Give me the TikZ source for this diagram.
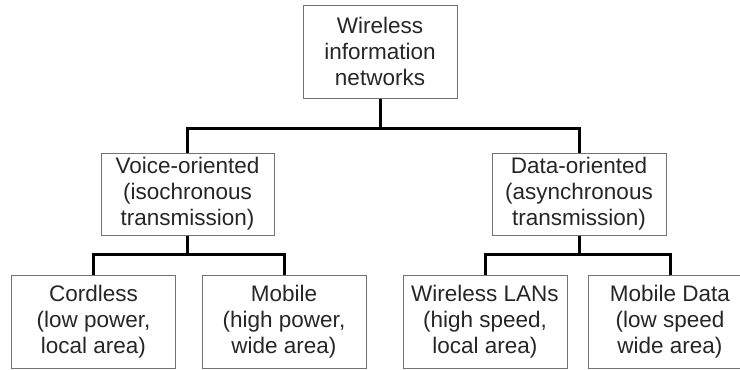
\documentclass[tikz,border=0pt]{standalone}
\usepackage{fontspec}
\setmainfont{Liberation Sans}
\begin{document}
\begin{tikzpicture}[x=1pt,y=-1pt,
    box/.style={draw=black!55,line width=1pt,align=center,inner sep=0pt,text=black!85,
        font=\fontsize{22.5}{26}\selectfont},
    conn/.style={line width=3pt,black}]
    \useasboundingbox (0,0) rectangle (740,370);
    \clip (0,0) rectangle (740,370);
    \def\barone{30} %khoảng cách tới thanh ngang
    \def\bartwo{19}
    \node[box,minimum width=154,minimum height=93] (top) at (380,51.5) {Wireless\\information\\networks};
    \node[box,minimum width=173,minimum height=82] (voice) at (187.5,194) {Voice-oriented\\(isochronous\\transmission)};
    \node[box,minimum width=174,minimum height=82] (data) at (579,194) {Data-oriented\\(asynchronous\\transmission)};
    \foreach \mname/\x/\mtext in {cordless/93.5/{Cordless\\(low power,\\local area)},mobile/284/{Mobile\\(high power,\\wide area)},wlan/485/{Wireless LANs\\(high speed,\\local area)},mdata/670/{Mobile Data\\(low speed\\wide area)}}
        \node[box,minimum width=164,minimum height=93] (\mname) at (\x,321.5) {\mtext};
    \draw[conn] (top.south) -- ++(0,\barone) -| (voice.north) (top.south) ++(0,\barone) -| (data.north);
    \draw[conn] (voice.south) -- ++(0,\bartwo) -| (cordless.north) (voice.south) ++(0,\bartwo) -| (mobile.north);
    \draw[conn] (data.south) -- ++(0,\bartwo) -| (wlan.north) (data.south) ++(0,\bartwo) -| (mdata.north);
\end{tikzpicture}
\end{document}
